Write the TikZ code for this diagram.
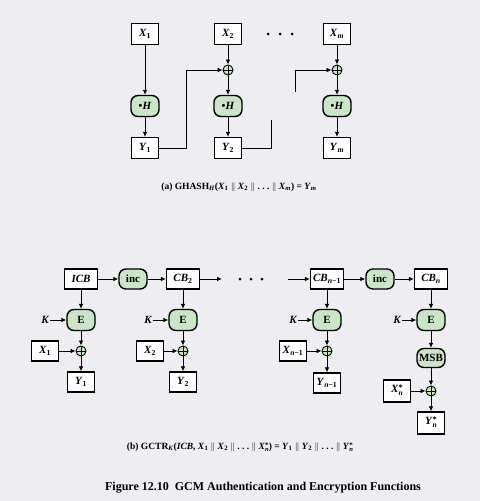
\documentclass[tikz,border=0pt]{standalone}
\usepackage{fontspec}
\setmainfont{Liberation Serif}
\usetikzlibrary{arrows.meta}
\definecolor{bg}{RGB}{237,237,242}
\definecolor{opg}{RGB}{204,228,200}
\newcommand{\lbl}[2]{\textit{#1}\textsubscript{#2}}
\newcommand{\vv}{\ $\Vert$\ }
\newcommand{\ddd}{.\ .\ .}
\newcommand{\starn}[1]{\textit{#1}{\fontsize{7.5}{7.5}\selectfont\begin{tabular}[c]{@{}l@{}}\raisebox{0.5pt}{\fontsize{8.5}{8.5}\selectfont *}\\[-3pt]\textit{n}\end{tabular}}}
\newcommand{\starns}[1]{\textit{#1}{\fontsize{6.5}{6.5}\selectfont\begin{tabular}[c]{@{}l@{}}\raisebox{0.5pt}{\fontsize{7}{7}\selectfont *}\\[-2.5pt]\textit{n}\end{tabular}}}
\tikzset{
  box/.style={draw, line width=1.4pt, fill=white, minimum width=27pt, minimum height=21pt, inner sep=2pt, font=\fontsize{11}{13}\selectfont\bfseries},
  opbox/.style={draw, line width=1.4pt, fill=opg, rounded corners=7pt, minimum width=28pt, minimum height=21pt, inner sep=2pt, font=\fontsize{11}{13}\selectfont\bfseries},
  xo/.style={draw, line width=0.9pt, fill=opg, circle, minimum size=10pt, inner sep=0pt,
    path picture={\draw[line width=0.7pt] (path picture bounding box.north) -- (path picture bounding box.south) (path picture bounding box.west) -- (path picture bounding box.east);}},
  arr/.style={line width=0.8pt, -{Latex[length=5pt,width=4.5pt]}},
  ln/.style={line width=0.8pt},
  kl/.style={inner sep=1pt, font=\fontsize{11}{13}\selectfont\bfseries\itshape},
  dotnode/.style={circle, fill=black, inner sep=0pt, minimum size=3pt},
  captxt/.style={font=\fontsize{9.5}{11}\selectfont\bfseries},
}
\begin{document}
\begin{tikzpicture}[x=1pt,y=-1pt]
\fill[bg] (0,0) rectangle (480,501);
\useasboundingbox (0,0) rectangle (480,501);
% ---------- (a) GHASH ----------
\node[box] (x1) at (145,34) {\lbl{X}{1}};
\node[box] (x2) at (228,34) {\lbl{X}{2}};
\node[box] (xm) at (337,34) {\textit{X}\textsubscript{\textit{m}}};
\node[dotnode] (da1) at (268,34) {};
\node[dotnode] (da2) at (280,34) {};
\node[dotnode] (da3) at (292,34) {};
\node[xo] (o2) at (228,70) {};
\node[xo] (om) at (337,70) {};
\node[opbox] (h1) at (145,106) {\textbullet\textit{H}};
\node[opbox] (h2) at (228,106) {\textbullet\textit{H}};
\node[opbox] (hm) at (337,106) {\textbullet\textit{H}};
\node[box] (y1) at (145,148) {\lbl{Y}{1}};
\node[box] (y2) at (228,148) {\lbl{Y}{2}};
\node[box] (ym) at (337,148) {\textit{Y}\textsubscript{\textit{m}}};
\coordinate (cin) at (295,92);
\draw[arr] (x1) -- (h1);
\draw[arr] (h1) -- (y1);
\draw[arr] (x2) -- (o2);
\draw[arr] (o2) -- (h2);
\draw[arr] (h2) -- (y2);
\draw[arr] (xm) -- (om);
\draw[arr] (om) -- (hm);
\draw[arr] (hm) -- (ym);
\draw[arr] (y1.east) -- ++(27,0) |- (o2);
\draw[ln] (y2.east) -- ++(29,0) -- ++(0,-28);
\draw[arr] (cin) |- (om);
\node[captxt] (capa) at (239,187) {(a) GHASH\textsubscript{\textit{H}}(\lbl{X}{1}\vv\lbl{X}{2}\vv\ddd\vv\textit{X}\textsubscript{\textit{m}}) = \textit{Y}\textsubscript{\textit{m}}};
% ---------- (b) GCTR ----------
\node[box, minimum width=33pt, minimum height=20pt] (icb) at (81,279) {\textit{ICB}};
\node[opbox, minimum height=20pt] (inc1) at (133,279) {inc};
\node[box, minimum width=33pt, minimum height=20pt] (cb2) at (183,279) {\textit{CB}\textsubscript{2}};
\coordinate (cbo) at (222,279);
\node[dotnode] (db1) at (240,279) {};
\node[dotnode] (db2) at (251,279) {};
\node[dotnode] (db3) at (262,279) {};
\coordinate (cbi) at (288,279);
\node[box, minimum width=33pt, minimum height=20pt, inner sep=1pt] (cbn1) at (327,279) {\textit{CB}\textsubscript{\textit{n}−1}};
\node[opbox, minimum height=20pt] (inc2) at (380,279) {inc};
\node[box, minimum width=33pt, minimum height=20pt] (cbn) at (431,279) {\textit{CB}\textsubscript{\textit{n}}};
% E row
\node[opbox] (e1) at (81,320) {E};
\node[opbox] (e2) at (183,320) {E};
\node[opbox] (e3) at (327,320) {E};
\node[opbox] (e4) at (431,320) {E};
\node[kl] (k1) at (45,320) {K};
\node[kl] (k2) at (148,320) {K};
\node[kl] (k3) at (293,320) {K};
\node[kl] (k4) at (397,320) {K};
% xor row
\node[xo] (p1) at (81,351) {};
\node[xo] (p2) at (183,351) {};
\node[xo] (p3) at (327,351) {};
\node[box, minimum height=20pt] (bx1) at (45,351) {\lbl{X}{1}};
\node[box, minimum height=20pt] (bx2) at (150,351) {\lbl{X}{2}};
\node[box, minimum height=20pt, inner sep=1pt] (bx3) at (293,351) {\textit{X}\textsubscript{\textit{n}−1}};
\node[box, minimum height=20pt] (by1) at (81,382) {\lbl{Y}{1}};
\node[box, minimum height=20pt] (by2) at (183,382) {\lbl{Y}{2}};
\node[box, minimum height=20pt, inner sep=1pt] (by3) at (327,383) {\textit{Y}\textsubscript{\textit{n}−1}};
\node[opbox, minimum height=19pt] (msb) at (431,358) {MSB};
\node[xo] (p4) at (431,391) {};
\node[box, minimum height=22pt] (bx4) at (397,391) {\starn{X}};
\node[box, minimum height=22pt] (by4) at (431,423) {\starn{Y}};
% connectors
\draw[arr] (icb) -- (inc1);
\draw[arr] (inc1) -- (cb2);
\draw[arr] (cb2) -- (cbo);
\draw[arr] (cbi) -- (cbn1);
\draw[arr] (cbn1) -- (inc2);
\draw[arr] (inc2) -- (cbn);
\draw[arr] (icb) -- (e1);
\draw[arr] (cb2) -- (e2);
\draw[arr] (cbn1) -- (e3);
\draw[arr] (cbn) -- (e4);
\draw[arr] (k1) -- (e1);
\draw[arr] (k2) -- (e2);
\draw[arr] (k3) -- (e3);
\draw[arr] (k4) -- (e4);
\draw[arr] (e1) -- (p1);
\draw[arr] (e2) -- (p2);
\draw[arr] (e3) -- (p3);
\draw[arr] (e4) -- (msb);
\draw[arr] (msb) -- (p4);
\draw[arr] (bx1) -- (p1);
\draw[arr] (bx2) -- (p2);
\draw[arr] (bx3) -- (p3);
\draw[arr] (bx4) -- (p4);
\draw[arr] (p1) -- (by1);
\draw[arr] (p2) -- (by2);
\draw[arr] (p3) -- (by3);
\draw[arr] (p4) -- (by4);
\node[captxt] (capb) at (240,448) {(b) GCTR\textsubscript{\textit{K}}(\textit{ICB}, \lbl{X}{1}\vv\lbl{X}{2}\vv\ddd\vv\starns{X}) = \lbl{Y}{1}\vv\lbl{Y}{2}\vv\ddd\vv\starns{Y}};
\node[font=\fontsize{12}{14}\selectfont\bfseries] (fig) at (263,488) {Figure 12.10\ \ GCM Authentication and Encryption Functions};
\end{tikzpicture}
\end{document}
